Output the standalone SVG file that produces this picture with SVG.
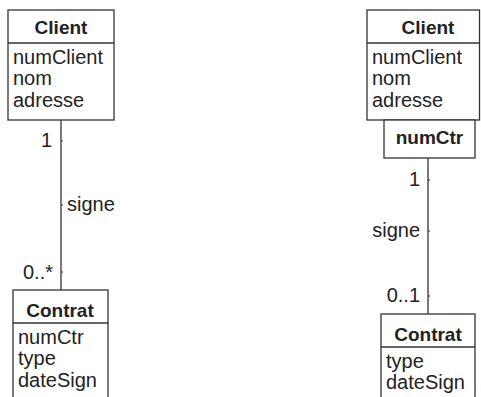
<svg xmlns="http://www.w3.org/2000/svg" width="481" height="397" viewBox="0 0 481 397">
<style>
.box{fill:#fff;stroke:#333;stroke-width:1.3}
.sep{stroke:#333;stroke-width:1.3}
.t{font-family:"Liberation Sans",Arial,sans-serif;font-size:20px;fill:#222}
.b{font-weight:bold;text-anchor:middle;font-size:19px}
.r{text-anchor:end}
.ln{stroke:#333;stroke-width:1.3;fill:none}
.tk{stroke:#333;stroke-width:1;fill:none}
</style>
<rect width="481" height="397" fill="#fff"/>
<g id="connectors">
<line class="ln" x1="61" y1="120" x2="61" y2="290"/>
<path class="tk" d="M61 141h2M61 205h2M61 272h2"/>
<text class="t r" x="52" y="147">1</text>
<text class="t" x="67" y="211">signe</text>
<text class="t r" x="53" y="279">0..*</text>
<line class="ln" x1="428" y1="158" x2="428" y2="314"/>
<path class="tk" d="M428 180h2M428 231h2M428 296h2"/>
<text class="t r" x="420" y="186">1</text>
<text class="t r" x="420" y="237">signe</text>
<text class="t r" x="420" y="302">0..1</text>
</g>
<g id="client1">
<rect class="box" x="8" y="10" width="106" height="110"/>
<line class="sep" x1="8" y1="43" x2="114" y2="43"/>
<text class="t b" x="61" y="34">Client</text>
<text class="t" x="13" y="64">numClient</text>
<text class="t" x="13" y="85">nom</text>
<text class="t" x="13" y="107">adresse</text>
</g>
<g id="contrat1">
<rect class="box" x="13" y="290" width="95" height="120"/>
<line class="sep" x1="13" y1="323" x2="108" y2="323"/>
<text class="t b" x="60" y="317">Contrat</text>
<text class="t" x="18" y="344">numCtr</text>
<text class="t" x="18" y="365">type</text>
<text class="t" x="18" y="387">dateSign</text>
</g>
<g id="client2">
<rect class="box" x="367" y="10" width="112.5" height="110"/>
<line class="sep" x1="367" y1="43" x2="479.5" y2="43"/>
<text class="t b" x="428" y="34">Client</text>
<text class="t" x="372" y="64">numClient</text>
<text class="t" x="372" y="85">nom</text>
<text class="t" x="372" y="107">adresse</text>
</g>
<g id="qualifier">
<rect class="box" x="384" y="120" width="91" height="38"/>
<text class="t b" x="429.5" y="144">numCtr</text>
</g>
<g id="contrat2">
<rect class="box" x="381" y="314" width="94" height="100"/>
<line class="sep" x1="381" y1="347" x2="475" y2="347"/>
<text class="t b" x="428" y="341">Contrat</text>
<text class="t" x="386" y="368">type</text>
<text class="t" x="386" y="389">dateSign</text>
</g>
</svg>
